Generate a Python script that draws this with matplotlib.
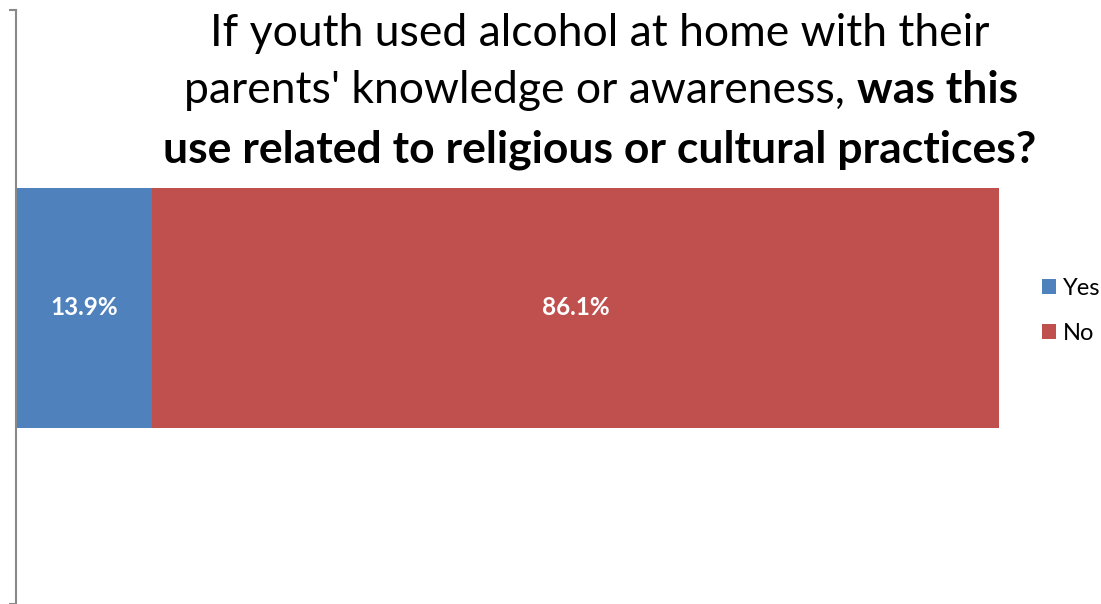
import matplotlib.pyplot as plt
from matplotlib.patches import Patch

# values for the single stacked bar
categories = ['Yes', 'No']
percentages = [13.9, 86.1]
colors = ['#4F81BD', '#C0504D']

W, H = 1101, 604
FONT = 'Lato'

fig = plt.figure(figsize=(W / 100, H / 100), dpi=100)
fig.patch.set_facecolor('white')

# axes box in pixels: left 15.5 .. right 999, top 10 .. bottom 604
ax = fig.add_axes([15.5 / W, 0, (999 - 15.5) / W, (H - 10) / H])

left = 0
for cat, val, col in zip(categories, percentages, colors):
    ax.barh([0], [val], left=left, height=0.8, color=col, label=cat)
    ax.text(left + val / 2, 0, f'{val:.1f}%', ha='center', va='center',
            color='white', fontsize=17.5, fontweight='bold', family=FONT)
    left += val

ax.set_xlim(0, 100)
ax.set_ylim(-0.987, 0.993)
ax.set_xticks([])
ax.set_yticks([0.993, -0.987])
ax.set_yticklabels([])
ax.tick_params(axis='y', length=5, width=1.5, color='#898989', direction='out')
for s in ['top', 'right', 'bottom']:
    ax.spines[s].set_visible(False)
ax.spines['left'].set_color('#898989')
ax.spines['left'].set_linewidth(1.5)

# title, three centered lines with the end of line 2 in bold
cx = 600 / W
title_size = 32
fig.text(cx, 1 - 46 / H, 'If youth used alcohol at home with their',
         ha='center', va='baseline', fontsize=title_size, family=FONT)

fig.canvas.draw()
renderer = fig.canvas.get_renderer()
part1 = "parents' knowledge or awareness, "
part2 = 'was this'
t1 = fig.text(0, 1 - 103 / H, part1, ha='left', va='baseline',
              fontsize=title_size, family=FONT)
t2 = fig.text(0, 1 - 103 / H, part2, ha='left', va='baseline',
              fontsize=title_size, family=FONT, fontweight='bold')
w1 = t1.get_window_extent(renderer).width
w2 = t2.get_window_extent(renderer).width
x0 = 601 - (w1 + w2) / 2
t1.set_x(x0 / W)
t2.set_x((x0 + w1) / W)

fig.text(cx, 1 - 163 / H, 'use related to religious or cultural practices?',
         ha='center', va='baseline', fontsize=title_size, family=FONT,
         fontweight='bold')

handles = [Patch(facecolor=c, label=l) for l, c in zip(categories, colors)]
fig.legend(handles=handles, loc='center left',
           bbox_to_anchor=(1042 / W, 1 - 311 / H), frameon=False,
           prop={'family': FONT, 'size': 17}, handlelength=0.6,
           handleheight=0.6, handletextpad=0.3, labelspacing=1.0,
           borderpad=0, borderaxespad=0)

fig.savefig('out.png', dpi=100, facecolor='white')
